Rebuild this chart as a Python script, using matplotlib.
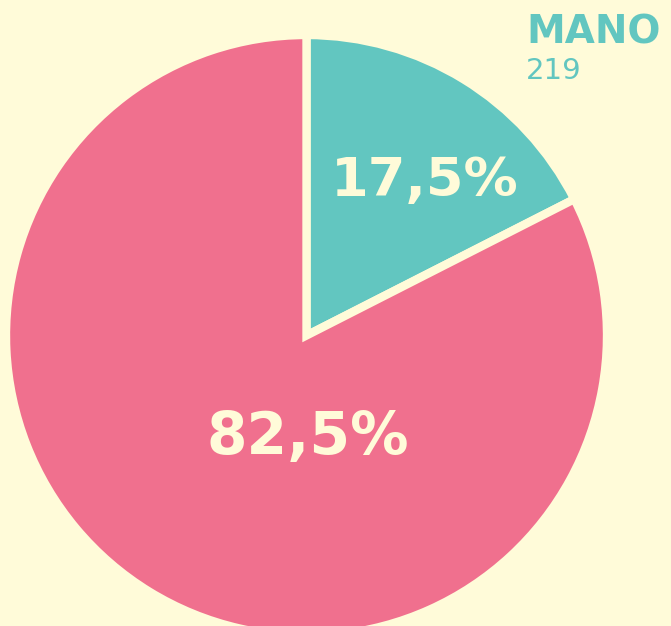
import matplotlib.pyplot as plt

# Data
labels = ["MANO", "OTROS"]
counts = [219, 1032]
shares = ["17,5%", "82,5%"]
colors = ["#62C6C0", "#F0708E"]
bg = "#FFFBD9"

fig = plt.figure(figsize=(6.71, 6.26), dpi=100, facecolor=bg)
ax = fig.add_axes([0, 0, 1, 1])
ax.set_facecolor(bg)

# pie in pixel units
ax.pie(
    counts,
    colors=colors,
    startangle=90,
    counterclock=False,
    center=(306.5, 290.5),
    radius=300.5,
    wedgeprops=dict(edgecolor=bg, linewidth=6, joinstyle="miter"),
    frame=True,
)
ax.set_xlim(0, 671)
ax.set_ylim(0, 626)
ax.set_aspect("equal")
ax.axis("off")

# percentage labels
ax.text(425, 445, shares[0], color=bg, fontsize=39, fontweight="black",
        ha="center", va="center")
ax.text(308, 188, shares[1], color=bg, fontsize=42, fontweight="black",
        ha="center", va="center")

# category label
ax.text(526, 594, labels[0], color=colors[0], fontsize=28, fontweight="bold",
        ha="left", va="center")
ax.text(526, 555, str(counts[0]), color=colors[0], fontsize=21,
        ha="left", va="center")

fig.savefig("out.png", dpi=100, facecolor=bg)
